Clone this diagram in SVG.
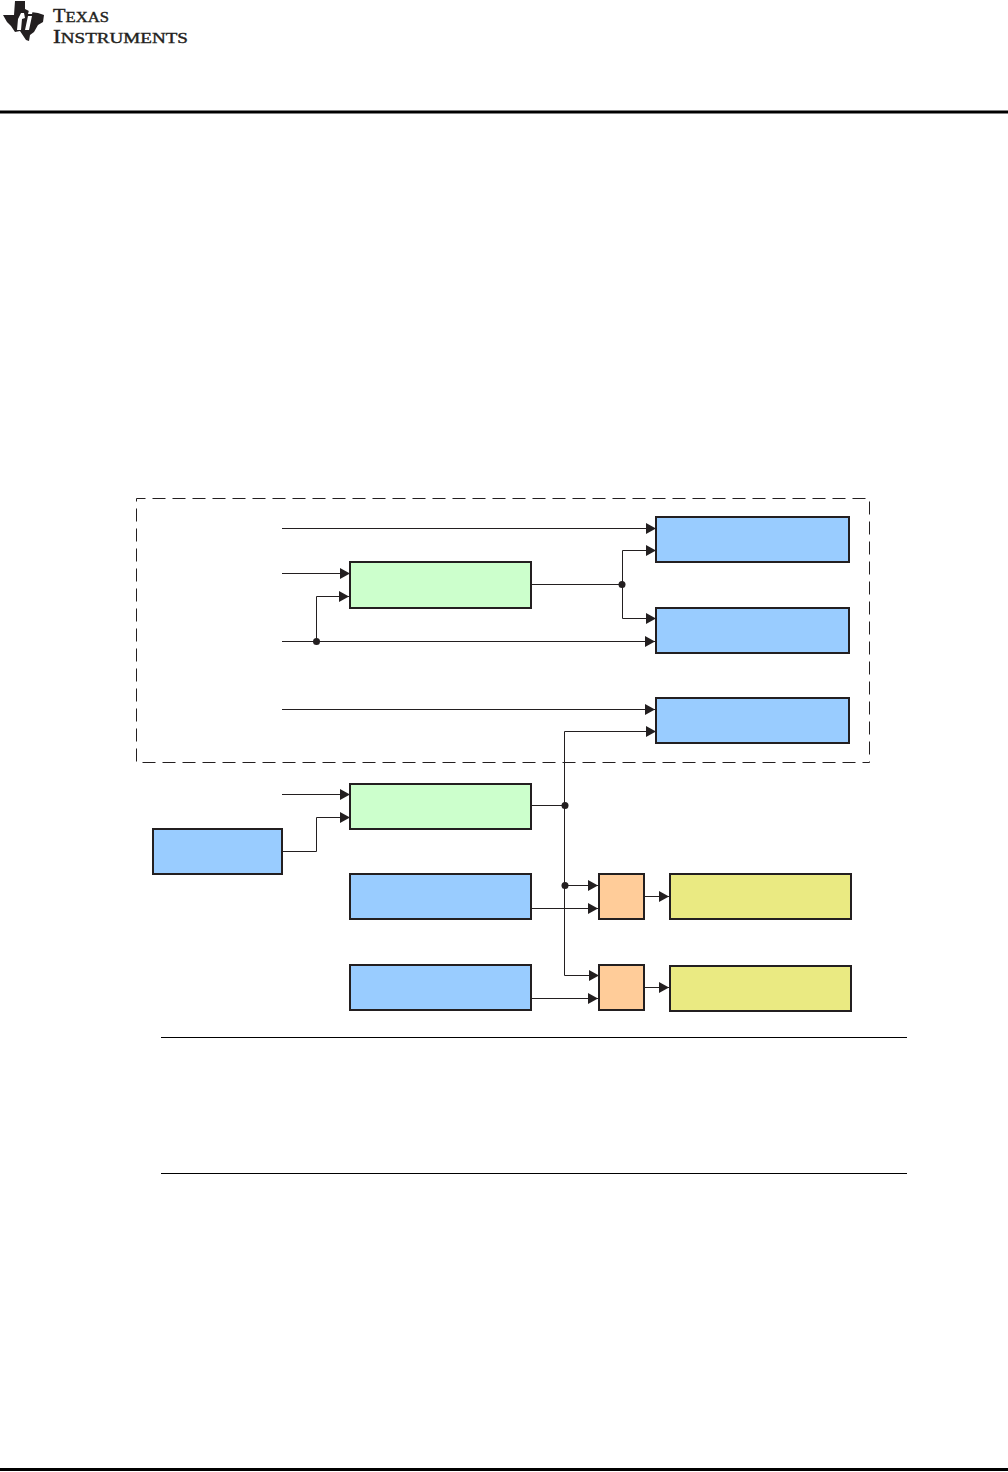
<svg xmlns="http://www.w3.org/2000/svg" width="1008" height="1472" viewBox="0 0 1008 1472">
<style>
.box{stroke:#231f20;stroke-width:2}
.blue{fill:#99ccff}.green{fill:#ccffcc}.orange{fill:#ffcc99}.yellow{fill:#eaea82}
.wire{fill:none;stroke:#231f20;stroke-width:1;marker-end:url(#arrow)}
.plain{fill:none;stroke:#231f20;stroke-width:1}
.dash{fill:none;stroke:#231f20;stroke-width:1;stroke-dasharray:13 7}
.dot{fill:#231f20}
.rule{stroke:#000;stroke-width:1}
.logo{font-family:"Liberation Serif",serif;fill:#231f20;stroke:#231f20;stroke-width:0.4}
.logo .cap{font-size:19px}
</style>
<defs>
<marker id="arrow" markerUnits="userSpaceOnUse" markerWidth="11" markerHeight="12" refX="10" refY="6" orient="auto"><path d="M0 0.500L10 6L0 11.500Z" fill="#231f20"/></marker>
</defs>
<rect width="1008" height="1472" fill="#fff"/>
<g id="logo">
<path d="M3 15L14 15L15 1L25 1L25 9L31 12L38 13L44 15L43 22L38 25L34 32L30 35L29 41L26 40L20 31L15 32L11 26L7 22Z" fill="#231f20"/>
<path d="M24 13L21 13L18 19L17 30L21 30L22 19L25 18Z M29 10L33 10L32 14L28 14Z M28 16L32 16L29 30L25 30Z" fill="#fff"/>
<text class="logo" x="53" y="22" font-size="15.5" textLength="56" lengthAdjust="spacingAndGlyphs"><tspan class="cap">T</tspan>EXAS</text>
<text class="logo" x="53" y="43" font-size="15.5" textLength="135" lengthAdjust="spacingAndGlyphs"><tspan class="cap">I</tspan>NSTRUMENTS</text>
</g>
<g id="page-rules">
<line x1="0" y1="112" x2="1008" y2="112" stroke="#000" stroke-width="3"/>
<line x1="0" y1="1469.500" x2="1008" y2="1469.500" stroke="#000" stroke-width="3"/>
<line class="rule" x1="161" y1="1037.500" x2="907" y2="1037.500"/>
<line class="rule" x1="161" y1="1173.500" x2="907" y2="1173.500"/>
</g>
<g id="boundary">
<path class="dash" stroke-dashoffset="4" d="M136.500 498.500H869.500V762.500"/>
<path class="dash" stroke-dashoffset="10" d="M136.500 498.500V762.500H869.500"/>
</g>
<g id="blue-1"><rect class="box blue" x="656" y="517" width="193" height="45"/></g>
<g id="blue-2"><rect class="box blue" x="656" y="608" width="193" height="45"/></g>
<g id="blue-3"><rect class="box blue" x="656" y="698" width="193" height="45"/></g>
<g id="green-1"><rect class="box green" x="350" y="562" width="181" height="46"/></g>
<g id="green-2"><rect class="box green" x="350" y="784" width="181" height="45"/></g>
<g id="blue-left"><rect class="box blue" x="153" y="829" width="129" height="45"/></g>
<g id="blue-4"><rect class="box blue" x="350" y="874" width="181" height="45"/></g>
<g id="blue-5"><rect class="box blue" x="350" y="965" width="181" height="45"/></g>
<g id="orange-1"><rect class="box orange" x="599" y="874" width="45" height="45"/></g>
<g id="orange-2"><rect class="box orange" x="599" y="965" width="45" height="45"/></g>
<g id="yellow-1"><rect class="box yellow" x="670" y="874" width="181" height="45"/></g>
<g id="yellow-2"><rect class="box yellow" x="670" y="966" width="181" height="45"/></g>
<g id="connectors">
<path class="wire" d="M282 528.500H656"/>
<path class="wire" d="M282 573.500H350"/>
<path class="wire" d="M316.500 641.500V596.500H349"/>
<path class="wire" d="M282 641.500H655"/>
<path class="wire" d="M282 709.500H655"/>
<path class="wire" d="M531 584.500H622.500V550.500H656"/>
<path class="wire" d="M622.500 584.500V618.500H656"/>
<path class="wire" d="M564.500 975.500V731.500H656"/>
<path class="plain" d="M531 805.500H564.500"/>
<path class="wire" d="M564.500 885.500H598"/>
<path class="wire" d="M531 908.500H598"/>
<path class="wire" d="M564.500 975.500H599"/>
<path class="wire" d="M531 998.500H598"/>
<path class="wire" d="M644 896.500H669"/>
<path class="wire" d="M644 987.500H669"/>
<path class="wire" d="M282 794.500H350"/>
<path class="wire" d="M282 851.500H316.500V817.500H350"/>
<circle class="dot" cx="316.500" cy="641.500" r="3.500"/>
<circle class="dot" cx="622" cy="584.500" r="3.500"/>
<circle class="dot" cx="565" cy="805.500" r="3.500"/>
<circle class="dot" cx="565" cy="885.500" r="3.500"/>
</g>
</svg>
